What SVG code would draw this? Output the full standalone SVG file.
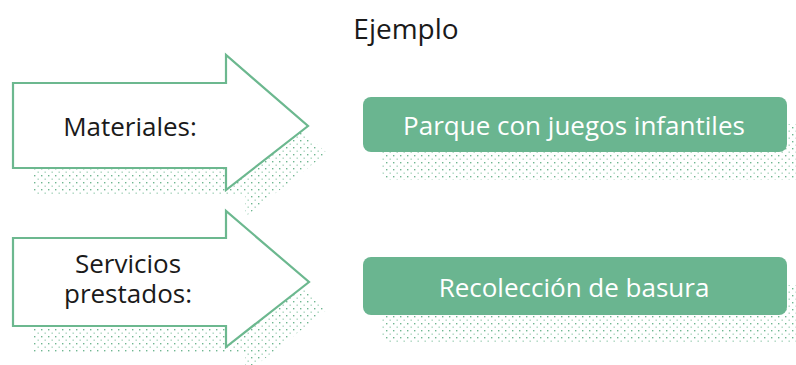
<svg xmlns="http://www.w3.org/2000/svg" width="796" height="365" viewBox="0 0 796 365">
<defs>
<pattern id="dots" width="7" height="7" patternUnits="userSpaceOnUse">
<rect x="1" y="1" width="1.4" height="1.4" fill="#5fae84" opacity="0.9"/>
<rect x="4.5" y="4.5" width="1.4" height="1.4" fill="#5fae84" opacity="0.55"/>
</pattern>
<style>
.arrow{fill:#ffffff;stroke:#6cb88f;stroke-width:2.2;stroke-linejoin:miter}
.shadow{fill:url(#dots)}
.box{fill:#6ab590}
.t{font-family:"Open Sans","Noto Sans",sans-serif;font-size:26px;fill:#1a1a1a;text-anchor:middle}
.w{fill:#ffffff}
</style>
</defs>
<text class="t" x="406" y="39" style="font-size:28px">Ejemplo</text>
<g id="arrow-materiales">
<path class="shadow" transform="translate(19,27)" d="M13,83 H226 V55 L308,126 L226,190 V168 H13 Z"/>
<path class="arrow" d="M13,83 H226 V55 L308,126 L226,190 V168 H13 Z"/>
<text class="t" x="130" y="136">Materiales:</text>
</g>
<g id="arrow-servicios">
<path class="shadow" transform="translate(19,27)" d="M13,238 H226 V211 L309,282 L226,347 V326 H13 Z"/>
<path class="arrow" d="M13,238 H226 V211 L309,282 L226,347 V326 H13 Z"/>
<text class="t" x="128" y="273">Servicios<tspan x="128" dy="30">prestados:</tspan></text>
</g>
<g id="box-parque">
<rect class="shadow" x="382" y="124" width="424" height="56" rx="8"/>
<rect class="box" x="363" y="97" width="424" height="55" rx="8"/>
<text class="t w" x="574" y="135">Parque con juegos infantiles</text>
</g>
<g id="box-recoleccion">
<rect class="shadow" x="382" y="285" width="424" height="58" rx="8"/>
<rect class="box" x="363" y="257" width="424" height="58" rx="8"/>
<text class="t w" x="574" y="297">Recolección de basura</text>
</g>
<g id="connectors"/>
</svg>
